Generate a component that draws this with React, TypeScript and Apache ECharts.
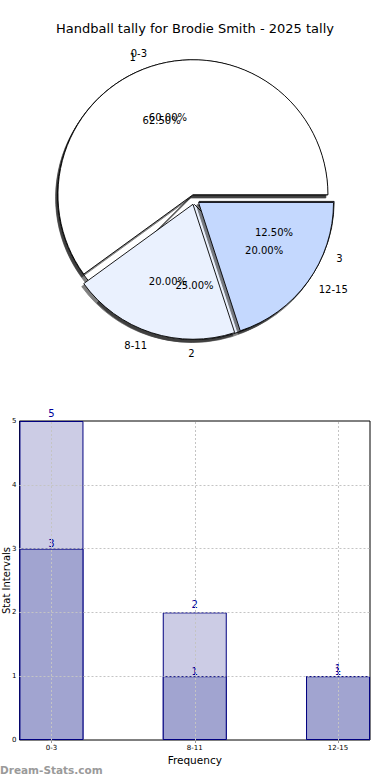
import React, { useEffect, useRef } from "react";
import * as echarts from "echarts";

const titleText = "Handball tally for Brodie Smith - 2025 tally";
const outerNames = ["0-3", "8-11", "12-15"];
const outerValues = [3, 1, 1];
const innerNames = ["1", "2", "3"];
const innerValues = [5, 2, 1];
const pieColors = ["#ffffff", "#eaf1fe", "#c4d8fe"];

const barCategories = ["0-3", "8-11", "12-15"];
const barTotals = [5, 2, 1];
const barInner = [3, 1, 1];
const yTicks = [0, 1, 2, 3, 4, 5];

const FONT = "DejaVu Sans";

export default function App() {
  const ref = useRef<HTMLDivElement>(null);
  useEffect(() => {
    document.body.style.margin = "0";
    if (!ref.current) return;
    const chart = echarts.init(ref.current, undefined, { renderer: "svg" });
    const R = 135;
    const center = [194.5, 199.5];
    const explode = 5;

    const pieBase = (names: string[], values: number[], z: number) => ({
      type: "pie",
      center,
      radius: [0, R],
      startAngle: 0,
      clockwise: false,
      avoidLabelOverlap: false,
      labelLayout: { hideOverlap: false },
      selectedMode: "multiple",
      selectedOffset: explode,
      z,
      emphasis: { disabled: true },
      itemStyle: {
        borderColor: "#000",
        borderWidth: 0.9,
        shadowColor: "rgba(0,0,0,0.5)",
        shadowBlur: 1,
        shadowOffsetX: -2,
        shadowOffsetY: 3,
      },
      select: {
        itemStyle: {
          borderColor: "#000",
          borderWidth: 0.9,
        },
      },
      label: {
        show: true,
        position: "outside",
        distanceToLabelLine: 0,
        fontFamily: FONT,
        fontSize: 10,
        color: "#000",
        formatter: "{b}",
      },
      labelLine: { show: false, length: R * 0.1, length2: 0 },
      data: names.map((n, i) => ({
        name: n,
        value: values[i],
        selected: true,
        itemStyle: { color: pieColors[i] },
      })),
    });

    const pctHelper = (names: string[], values: number[], z: number) => ({
      type: "pie",
      center,
      radius: [40, 116],
      startAngle: 0,
      clockwise: false,
      avoidLabelOverlap: false,
      labelLayout: { hideOverlap: false },
      selectedMode: "multiple",
      selectedOffset: explode,
      silent: true,
      z,
      emphasis: { disabled: true },
      itemStyle: { color: "rgba(0,0,0,0)", borderWidth: 0 },
      select: { itemStyle: { color: "rgba(0,0,0,0)", borderWidth: 0 } },
      label: {
        show: true,
        position: "inside",
        fontFamily: FONT,
        fontSize: 10,
        color: "#000",
        formatter: (p: any) => p.percent.toFixed(2) + "%",
      },
      labelLine: { show: false },
      data: names.map((n, i) => ({ name: n, value: values[i], selected: true })),
    });

    const gridLine = {
      color: "#c4c4c4",
      type: [2, 2],
      width: 1,
    };

    chart.setOption({
      animation: false,
      backgroundColor: "#fff",
      title: {
        text: titleText,
        left: "center",
        top: 22,
        padding: 0,
        textStyle: { fontFamily: FONT, fontSize: 13, fontWeight: "normal", color: "#000" },
      },
      grid: {
        left: 19.5,
        right: 20,
        top: 421,
        bottom: 40,
        outerBoundsMode: "none",
        containLabel: false,
        show: true,
        borderColor: "#000",
        borderWidth: 1,
        backgroundColor: "transparent",
      },
      xAxis: [
        {
          type: "value",
          min: -0.223,
          max: 2.223,
          name: "Frequency",
          nameLocation: "middle",
          nameGap: 14,
          nameMoveOverlap: false,
          nameTextStyle: { fontFamily: FONT, fontSize: 10.5, color: "#000" },
          axisLine: { show: false },
          splitLine: { show: false },
          axisTick: {
            show: true,
            inside: true,
            length: 3,
            customValues: [0, 1, 2],
            lineStyle: { color: "#999" },
          },
          axisLabel: {
            customValues: [0, 1, 2],
            formatter: (v: number) => barCategories[Math.round(v)] ?? "",
            fontFamily: FONT,
            fontSize: 7,
            color: "#000",
            margin: 4,
          },
        },
        {
          type: "value",
          position: "top",
          min: -0.223,
          max: 2.223,
          axisLine: { show: false },
          splitLine: { show: false },
          axisLabel: { show: false, customValues: [0, 1, 2] },
          axisTick: {
            show: true,
            inside: true,
            length: 3,
            customValues: [0, 1, 2],
            lineStyle: { color: "#999" },
          },
        },
      ],
      yAxis: [
        {
          type: "value",
          min: yTicks[0],
          max: yTicks[yTicks.length - 1],
          interval: 1,
          name: "Stat Intervals",
          nameLocation: "middle",
          nameGap: 8,
          nameMoveOverlap: false,
          nameTextStyle: { fontFamily: FONT, fontSize: 10, color: "#000" },
          axisLine: { show: false },
          splitLine: { show: false },
          axisTick: { show: true, inside: true, length: 3, lineStyle: { color: "#999" } },
          axisLabel: { fontFamily: FONT, fontSize: 7, color: "#000", margin: 3 },
        },
        {
          type: "value",
          position: "right",
          min: yTicks[0],
          max: yTicks[yTicks.length - 1],
          interval: 1,
          axisLine: { show: false },
          splitLine: { show: false },
          axisTick: { show: true, inside: true, length: 3, lineStyle: { color: "#999" } },
          axisLabel: { show: false },
        },
      ],
      graphic: [
        {
          type: "text",
          left: 0,
          top: 764,
          style: {
            text: "Dream-Stats.com",
            fontFamily: FONT,
            fontSize: 10.5,
            fontWeight: "bold",
            fill: "#9a9a9a",
          },
        },
      ],
      series: [
        pieBase(innerNames, innerValues, 2),
        pieBase(outerNames, outerValues, 3),
        pctHelper(innerNames, innerValues, 4),
        pctHelper(outerNames, outerValues, 5),
        {
          type: "bar",
          xAxisIndex: 0,
          yAxisIndex: 0,
          barWidth: 64,
          barGap: "-100%",
          data: barTotals.map((v, i) => [i, v]),
          itemStyle: { color: "#ccccE5", borderColor: "#000080", borderWidth: 1 },
          emphasis: { disabled: true },
          label: {
            show: true,
            position: "top",
            distance: 3,
            fontFamily: FONT,
            fontSize: 10,
            color: "#000099",
          },
        },
        {
          type: "bar",
          xAxisIndex: 0,
          yAxisIndex: 0,
          barWidth: 64,
          barGap: "-100%",
          data: barInner.map((v, i) => [i, v]),
          itemStyle: { color: "#a1a4d0", borderColor: "#000080", borderWidth: 1 },
          emphasis: { disabled: true },
          label: {
            show: true,
            position: "top",
            distance: 0,
            fontFamily: FONT,
            fontSize: 10,
            color: "#000099",
          },
          markLine: {
            silent: true,
            symbol: ["none", "none"],
            label: { show: false },
            emphasis: { disabled: true },
            lineStyle: gridLine,
            z: 10,
            data: [
              ...[0, 1, 2].map((x) => ({ xAxis: x })),
              ...yTicks.slice(1, -1).map((y) => ({ yAxis: y })),
            ],
          },
        },
      ],
    });
    return () => chart.dispose();
  }, []);
  return <div ref={ref} style={{ width: 390, height: 780 }} />;
}
